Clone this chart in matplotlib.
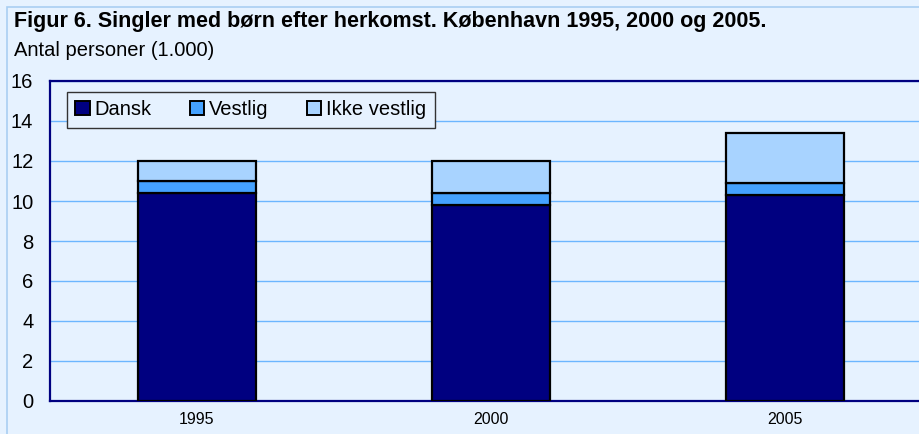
import numpy as np
import matplotlib.pyplot as plt
from matplotlib.patches import Rectangle

plt.rcParams['font.family'] = ['Liberation Sans', 'DejaVu Sans']

# data (1.000 personer)
years = ['1995', '2000', '2005']
dansk = [10.4, 9.8, 10.3]
vestlig = [0.6, 0.6, 0.6]
ikke_vestlig = [1.0, 1.6, 2.5]
series_names = ['Dansk', 'Vestlig', 'Ikke vestlig']
colors = ['#000080', '#45a2ff', '#a8d3ff']

bg = '#e6f2ff'
fig = plt.figure(figsize=(9.2, 4.34), dpi=100, facecolor=bg)
# outer border of the chart area
fig.patches.append(Rectangle((7 / 920, -0.1), 1.2, 1 - 7 / 434 + 0.1, transform=fig.transFigure,
                             facecolor='none', edgecolor='#a9cff2', lw=1.2))

ax = fig.add_axes([50 / 920, 1 - 401 / 434, 882 / 920, 320 / 434])
ax.set_facecolor(bg)

x = np.arange(len(years))
bottom = np.zeros(len(years))
for vals, name, c in zip([dansk, vestlig, ikke_vestlig], series_names, colors):
    ax.bar(x, vals, width=0.40, bottom=bottom, color=c, edgecolor='black',
           linewidth=1.6, label=name, zorder=3)
    bottom += np.array(vals)

ax.set_xlim(-0.5, 2.5)
ax.set_ylim(0, 16)
ax.set_yticks(np.arange(0, 17, 2))
ax.set_xticks(x)
ax.set_xticklabels(years, fontsize=11.5)
ax.tick_params(axis='y', length=0, labelsize=14.5, pad=12)
ax.tick_params(axis='x', length=0, pad=8)
ax.yaxis.grid(True, color='#6cb6ff', lw=1, zorder=0)
ax.set_axisbelow(True)
for s in ['left', 'bottom', 'top', 'right']:
    ax.spines[s].set_color('#000080')
    ax.spines[s].set_linewidth(1.6)

leg = ax.legend(loc='upper left', bbox_to_anchor=(17 / 882, 1 - 11 / 320), ncol=3,
                fontsize=14.5, frameon=True, fancybox=False, edgecolor='#333333',
                facecolor=bg, framealpha=1, handlelength=0.7, handleheight=0.7,
                handletextpad=0.25, columnspacing=1.9, borderpad=0.42,
                borderaxespad=0)
leg.get_frame().set_linewidth(1.0)
for h in leg.legend_handles:
    h.set_linewidth(1.4)

fig.text(14 / 920, 1 - 22 / 434, 'Figur 6. Singler med børn efter herkomst. København 1995, 2000 og 2005.',
         fontsize=15.5, fontweight='bold', va='center', ha='left')
fig.text(14 / 920, 1 - 50 / 434, 'Antal personer (1.000)', fontsize=14.5, va='center', ha='left')

fig.savefig('out.png', dpi=100, facecolor=bg)
